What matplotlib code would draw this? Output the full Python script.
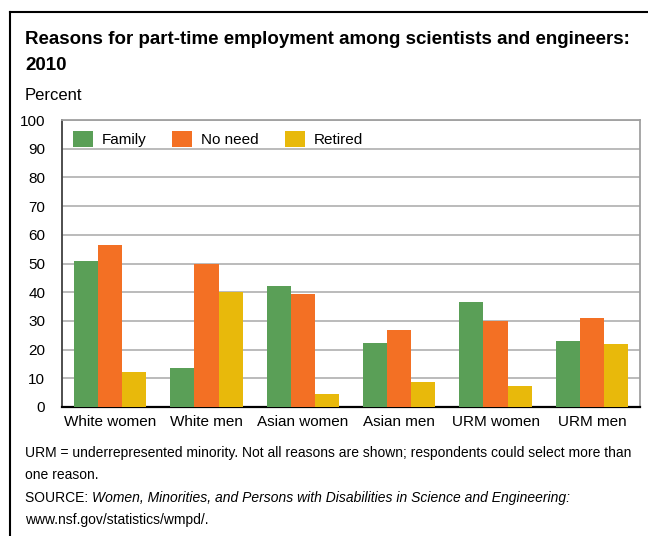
import matplotlib.pyplot as plt
import numpy as np
from matplotlib.lines import Line2D
from matplotlib.patches import Patch

groups = ['White women', 'White men', 'Asian women', 'Asian men', 'URM women', 'URM men']
family = [51, 13.7, 42.2, 22.4, 36.7, 23.1]
no_need = [56.5, 49.7, 39.4, 26.9, 29.8, 31.1]
retired = [12.3, 40.1, 4.6, 8.8, 7.4, 22.0]
series_names = ['Family', 'No need', 'Retired']
colors = ['#5a9f57', '#f37024', '#e8b90b']

plt.rcParams['font.family'] = ['Liberation Sans', 'DejaVu Sans']

fig = plt.figure(figsize=(6.48, 5.36), dpi=100)
W, H = 648, 536
ax = fig.add_axes([62 / W, 1 - 407 / H, (640 - 62) / W, (407 - 120) / H])

x = np.arange(len(groups))
bw = 0.25
for i, vals in enumerate([family, no_need, retired]):
    ax.bar(x + (i - 1) * bw, vals, width=bw, color=colors[i], zorder=3)

ax.set_xlim(-0.5, len(groups) - 0.5)
ax.set_ylim(0, 100)
ax.set_yticks(range(0, 101, 10))
ax.set_xticks(x)
ax.set_xticklabels(groups)
ax.tick_params(axis='both', length=0, labelsize=11)
ax.tick_params(axis='y', pad=12)
ax.tick_params(axis='x', pad=6)
ax.yaxis.grid(True, color='#b5b5b5', linewidth=1.3, zorder=0)
for s in ['top', 'right']:
    ax.spines[s].set_color('#a0a0a0')
    ax.spines[s].set_linewidth(1.3)
ax.spines['left'].set_color('#404040')
ax.spines['left'].set_linewidth(1.3)
ax.spines['bottom'].set_color('black')
ax.spines['bottom'].set_linewidth(1.6)

handles = [Patch(facecolor=c, edgecolor='none') for c in colors]
ax.legend(handles, series_names, loc='upper left', bbox_to_anchor=(0.0, 1.0),
          ncol=3, frameon=False, fontsize=11, handlelength=1.3, handleheight=1.3,
          handletextpad=0.6, columnspacing=1.7, borderaxespad=0.3)

# title: shrink to fit the width the reference uses (x 25..633)
title = fig.text(25 / W, 1 - 40 / H, 'Reasons for part-time employment among scientists and engineers:',
                 fontsize=14.5, fontweight='bold', va='center', ha='left')
fig.canvas.draw()
tw = title.get_window_extent().width
title_size = 14.5 * 606 / tw
title.set_fontsize(title_size)
fig.text(25 / W, 1 - 66 / H, '2010', fontsize=title_size, fontweight='bold', va='center', ha='left')
fig.text(25 / W, 1 - 96 / H, 'Percent', fontsize=12, va='center', ha='left')

fig.text(25 / W, 1 - 453 / H,
         'URM = underrepresented minority. Not all reasons are shown; respondents could select more than',
         fontsize=10, va='center', ha='left')
fig.text(25 / W, 1 - 475 / H, 'one reason.', fontsize=10, va='center', ha='left')
t = fig.text(25 / W, 1 - 498 / H, 'SOURCE: ', fontsize=10, va='center', ha='left')
fig.canvas.draw()
bb = t.get_window_extent()
fig.text(bb.x1 / W, 1 - 498 / H,
         'Women, Minorities, and Persons with Disabilities in Science and Engineering:',
         fontsize=10, va='center', ha='left', style='italic')
fig.text(25 / W, 1 - 520 / H, 'www.nsf.gov/statistics/wmpd/.', fontsize=10, va='center', ha='left')

# outer frame (left and top edges)
fig.add_artist(Line2D([10 / W, 10 / W], [0, 1 - 12 / H], color='black', linewidth=1.5))
fig.add_artist(Line2D([10 / W, 1], [1 - 12 / H, 1 - 12 / H], color='black', linewidth=1.5))

fig.savefig('out.png', dpi=100)
